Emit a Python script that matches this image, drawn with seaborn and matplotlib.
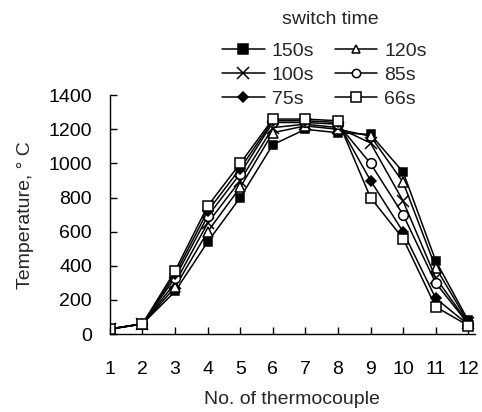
import matplotlib
matplotlib.use('Agg')
import matplotlib.pyplot as plt
from matplotlib.lines import Line2D
import pandas as pd
import seaborn as sns

THERMOCOUPLES = list(range(1, 13))
SERIES_LABELS = ['150s', '120s', '100s', '85s', '75s', '66s']
T_150 = [30, 60, 250, 540, 800, 1110, 1200, 1180, 1170, 950, 430, 80]
T_120 = [30, 60, 275, 600, 860, 1180, 1220, 1200, 1160, 890, 390, 70]
T_100 = [30, 60, 300, 650, 900, 1210, 1230, 1210, 1120, 780, 330, 65]
T_85 = [30, 60, 330, 690, 940, 1240, 1240, 1230, 1000, 700, 300, 60]
T_75 = [30, 60, 350, 720, 970, 1250, 1250, 1240, 900, 600, 210, 55]
T_66 = [30, 60, 370, 750, 1000, 1260, 1260, 1250, 800, 560, 160, 50]
SERIES_VALUES = [T_150, T_120, T_100, T_85, T_75, T_66]

# marker, face colour, size in plot, size in legend
MARKERS = {'150s': ('s', 'black', 6, 7.5), '120s': ('^', 'white', 7, 5.5),
           '100s': ('x', 'black', 8, 8), '85s': ('o', 'white', 7, 6),
           '75s': ('D', 'black', 5.5, 5.5), '66s': ('s', 'white', 7.5, 6.5)}


def main():
    sns.set_style('ticks')
    plt.rcParams['font.family'] = ['Liberation Sans', 'DejaVu Sans']
    plt.rcParams['font.size'] = 14

    df = pd.DataFrame([
        {'tc': tc, 'temp': v, 'series': lab}
        for lab, vals in zip(SERIES_LABELS, SERIES_VALUES)
        for tc, v in zip(THERMOCOUPLES, vals)
    ])

    fig = plt.figure(figsize=(4.82, 4.12), dpi=100)
    ax = fig.add_axes([0.228, 0.189, 0.757, 0.580])

    for lab in SERIES_LABELS:
        m, fc, ms, _ = MARKERS[lab]
        sub = df[df['series'] == lab]
        sns.lineplot(data=sub, x='tc', y='temp', ax=ax, color='black', lw=1.1,
                     marker=m, markersize=ms, markerfacecolor=fc,
                     markeredgecolor='black', markeredgewidth=1.1,
                     legend=False)

    ax.set_xlim(1, 12.2)
    ax.set_ylim(0, 1400)
    ax.set_xticks(THERMOCOUPLES)
    ax.set_yticks(range(0, 1401, 200))
    ax.tick_params(direction='in', length=5, width=1, colors='black')
    ax.tick_params(axis='x', pad=19)
    ax.tick_params(axis='y', pad=13)
    for s in ['top', 'right']:
        ax.spines[s].set_visible(False)
    for s in ['left', 'bottom']:
        ax.spines[s].set_color('black')
        ax.spines[s].set_linewidth(1)
    ax.set_xlabel('No. of thermocouple', labelpad=10)
    ax.set_ylabel('Temperature, ° C', labelpad=10)

    order = ['150s', '100s', '75s', '120s', '85s', '66s']
    proxies = [Line2D([], [], color='black', lw=1.1, marker=MARKERS[k][0],
                      markersize=MARKERS[k][3], markerfacecolor=MARKERS[k][1],
                      markeredgecolor='black', markeredgewidth=1.1)
               for k in order]
    fig.legend(proxies, order, ncol=2, frameon=False, loc='upper left',
               bbox_to_anchor=(222 / 482, 1 - 42 / 412), handlelength=2.2,
               handletextpad=0.35, columnspacing=1.05, labelspacing=0.33,
               borderpad=0, borderaxespad=0, fontsize=14)
    fig.text(330 / 482, 1 - 20 / 412, 'switch time', ha='center', va='center',
             fontsize=14)

    fig.savefig('out.png', dpi=100)


if __name__ == '__main__':
    main()
